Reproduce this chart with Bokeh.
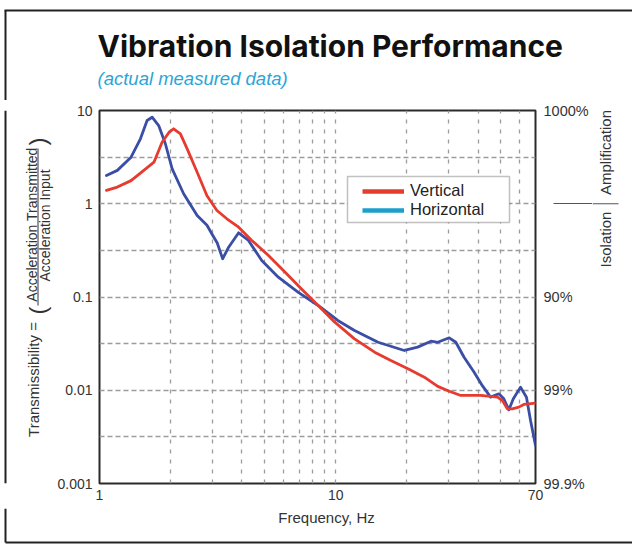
import math
from bokeh.plotting import figure
from bokeh.layouts import column, row
from bokeh.models import (FixedTicker, Label, BoxAnnotation, Legend, LegendItem,
                          CustomJSTickFormatter, Range1d, LogAxis)
from bokeh.embed import file_html
from bokeh.resources import INLINE

# ---------------- data ----------------
freq_vertical = [1.07, 1.19, 1.36, 1.54, 1.70, 1.84, 1.97, 2.06, 2.20, 2.35, 2.59,
                 2.85, 3.14, 3.46, 3.88, 4.41, 5.19, 6.09, 7.16, 8.42, 9.9, 12.0,
                 14.6, 17.1, 20.2, 23.7, 27.0, 30.2, 33.8, 41.0, 48.3, 50.7, 53.2,
                 55.8, 59.5, 62.5, 70.0]
trans_vertical = [1.39, 1.51, 1.77, 2.28, 2.79, 4.57, 5.85, 6.37, 5.62, 3.88, 2.18,
                  1.22, 0.847, 0.690, 0.561, 0.404, 0.279, 0.185, 0.122, 0.0811,
                  0.0537, 0.0356, 0.0256, 0.0208, 0.0170, 0.0138, 0.0110, 0.00977,
                  0.00879, 0.00879, 0.00843, 0.00776, 0.00632, 0.00632, 0.00659,
                  0.00705, 0.00726]

freq_horizontal = [1.07, 1.19, 1.36, 1.49, 1.59, 1.67, 1.78, 1.90, 2.03, 2.27, 2.59,
                   2.85, 3.0, 3.15, 3.32, 3.52, 3.88, 4.27, 4.86, 5.71, 6.94, 8.42,
                   10.2, 12.0, 15.1, 19.5, 22.2, 25.3, 27.0, 30.2, 32.2, 34.9, 38.5,
                   41.7, 45.2, 49.0, 51.4, 54.0, 56.4, 60.5, 64.1, 66.7, 70.0]
trans_horizontal = [2.01, 2.28, 3.16, 4.97, 7.82, 8.47, 6.90, 4.40, 2.37, 1.28, 0.748,
                    0.589, 0.468, 0.380, 0.257, 0.342, 0.488, 0.404, 0.246, 0.163,
                    0.112, 0.0811, 0.056, 0.0438, 0.0327, 0.0267, 0.0290, 0.0336,
                    0.0327, 0.0365, 0.0327, 0.0226, 0.0156, 0.0112, 0.00843, 0.00916,
                    0.00809, 0.00617, 0.00809, 0.0108, 0.00843, 0.00474, 0.00256]

series_names = ["Vertical", "Horizontal"]

x_ticks = [1, 10, 70]
x_tick_labels = ["1", "10", "70"]
y_ticks = [10, 1, 0.1, 0.01, 0.001]
y_tick_labels = ["10", "1", "0.1", "0.01", "0.001"]
right_ticks = [10, 0.1, 0.01, 0.001]
right_tick_labels = ["1000%", "90%", "99%", "99.9%"]
x_grid_values = [2, 3, 4, 5, 6, 7, 8, 9, 10, 20, 30, 40, 50, 60]
y_grid_values = [3.162, 1, 0.3162, 0.1, 0.03162, 0.01, 0.003162]
divider_value = 1   # Isolation / Amplification boundary

title_text = "Vibration Isolation Performance"
subtitle_text = "(actual measured data)"
x_title = "Frequency, Hz"
y_title_left = "Transmissibility ="
y_title_num = "Acceleration Transmitted"
y_title_den = "Acceleration Input"
right_title_up = "Amplification"
right_title_down = "Isolation"

# ---------------- styles / layout ----------------
RED = "#e63b2e"
BLUE = "#3a4ea5"
CYAN = "#1d9fcb"
TXT = "#333333"
FONT = "Liberation Sans"

TOTAL_W, TOTAL_H = 632, 545
TOP_H = 100            # title band
MID_H = 408            # row with the chart
BOT_H = TOTAL_H - TOP_H - MID_H
LEFT_W = 54
MAIN_W = 538
RIGHT_W = TOTAL_W - LEFT_W - MAIN_W
M_LEFT, M_RIGHT, M_TOP, M_BOTTOM = 43, 57, 10, 25   # frame: x 97..535, y 110..483
FRAME_TOP = TOP_H + M_TOP
FRAME_BOTTOM = TOP_H + MID_H - M_BOTTOM
ANG = math.pi / 2


def bare_fig(w, h, **kw):
    f = figure(width=w, height=h, output_backend="svg", toolbar_location=None,
               title_location=None, x_axis_location=None, y_axis_location=None, **kw)
    f.outline_line_color = None
    f.background_fill_color = "white"
    f.border_fill_color = "white"
    f.grid.visible = False
    return f


def dlabel(f, x, y, text, **kw):
    base = dict(text_font=FONT, text_color=TXT, text_align="center",
                text_baseline="middle", text_font_size="15px")
    base.update(kw)
    f.add_layout(Label(x=x, y=y, text=text, **base))


def border(f, xs0, ys0, xs1, ys1):
    f.segment(x0=xs0, y0=ys0, x1=xs1, y1=ys1, line_color="#222222", line_width=2)


# ---- top band: title and subtitle (data coords = page pixels)
top = bare_fig(TOTAL_W, TOP_H, x_range=Range1d(0, TOTAL_W), y_range=Range1d(TOP_H, 0),
               min_border_left=0, min_border_right=0, min_border_top=0, min_border_bottom=0)
dlabel(top, 97, 45, title_text, text_font="Inter", text_font_style="bold",
       text_font_size="30px", text_color="#111111", text_align="left")
dlabel(top, 97, 78, subtitle_text, text_font_style="italic", text_font_size="18.5px",
       text_color="#2ba5d6", text_align="left")
border(top, [5], [10], [5], [TOP_H])
top.add_layout(BoxAnnotation(left=4, right=TOTAL_W, top=9, bottom=11,
                             fill_color="#222222", fill_alpha=1, line_color=None))

# ---- left band: y axis title (frame shares the chart's vertical extent)
left = bare_fig(LEFT_W, MID_H, x_range=Range1d(0, LEFT_W),
                y_range=Range1d(FRAME_BOTTOM, FRAME_TOP),
                min_border_left=0, min_border_right=0,
                min_border_top=M_TOP, min_border_bottom=M_BOTTOM)
dlabel(left, 32.5, 379, y_title_left, angle=ANG)
dlabel(left, 37, 310, "(", angle=ANG, text_font_size="24px")
dlabel(left, 37, 141, ")", angle=ANG, text_font_size="24px")
dlabel(left, 31, 224, y_title_num, angle=ANG, text_font_size="14px")
dlabel(left, 44.5, 225, y_title_den, angle=ANG, text_font_size="14px")
left.segment(x0=[37.5], y0=[148], x1=[37.5], y1=[305], line_color=TXT, line_width=1)
border(left, [5], [FRAME_TOP], [5], [FRAME_BOTTOM])

# ---- main chart
p = figure(width=MAIN_W, height=MID_H, x_axis_type="log", y_axis_type="log",
           x_range=(1, 70), y_range=(0.001, 10), title_location=None,
           output_backend="svg", toolbar_location=None,
           min_border_left=M_LEFT, min_border_right=M_RIGHT,
           min_border_top=M_TOP, min_border_bottom=M_BOTTOM)
p.background_fill_color = "white"
p.border_fill_color = "white"
p.outline_line_color = "#2a2a2a"
p.outline_line_width = 2


def fmt(tick_values, labels):
    return CustomJSTickFormatter(args=dict(tv=tick_values, tl=labels), code="""
        for (let i = 0; i < tv.length; i++) {
            if (Math.abs(Math.log10(tick) - Math.log10(tv[i])) < 1e-6) return tl[i];
        }
        return "";
    """)


def style_axis(ax, size="14px"):
    ax.major_tick_line_color = None
    ax.minor_tick_line_color = None
    ax.major_tick_out = 0
    ax.major_tick_in = 0
    ax.minor_tick_out = 0
    ax.minor_tick_in = 0
    ax.axis_line_color = None
    ax.major_label_text_font = FONT
    ax.major_label_text_font_size = size
    ax.major_label_text_color = TXT


for ax, tks, lbls in ((p.xaxis[0], x_ticks, x_tick_labels), (p.yaxis[0], y_ticks, y_tick_labels)):
    ax.ticker = FixedTicker(ticks=tks)
    ax.formatter = fmt(tks, lbls)
    style_axis(ax)
p.xaxis[0].major_label_standoff = 6
p.yaxis[0].major_label_standoff = 7

# right percent scale; its single minor tick draws the Isolation/Amplification divider
ra = LogAxis(ticker=FixedTicker(ticks=right_ticks, minor_ticks=[divider_value]),
             formatter=fmt(right_ticks, right_tick_labels))
style_axis(ra, "14.5px")
ra.minor_tick_line_color = "#555555"
ra.minor_tick_line_width = 1.2
ra.minor_tick_out = 18
ra.minor_tick_in = -83
ra.major_label_standoff = -10
p.add_layout(ra, "right")

p.xgrid.ticker = FixedTicker(ticks=x_grid_values)
p.xgrid.grid_line_color = "#9c9c9c"
p.xgrid.grid_line_dash = "4 6"
p.xgrid.grid_line_width = 1.3
p.ygrid.ticker = FixedTicker(ticks=y_grid_values)
p.ygrid.grid_line_color = "#9c9c9c"
p.ygrid.grid_line_dash = "5 3"
p.ygrid.grid_line_width = 1.3

p.line(freq_horizontal, trans_horizontal, line_color=BLUE, line_width=2.8,
       line_join="round", line_cap="round")
p.line(freq_vertical, trans_vertical, line_color=RED, line_width=2.8,
       line_join="round", line_cap="round")

# legend swatches (hidden renderers carrying the legend styling of the reference)
leg_v = p.line(freq_vertical, trans_vertical, line_color=RED, line_width=4.5, visible=False)
leg_h = p.line(freq_horizontal, trans_horizontal, line_color=CYAN, line_width=4.5, visible=False)

FL_PAGE = LEFT_W + M_LEFT
p.add_layout(BoxAnnotation(left=345 - FL_PAGE, right=507 - FL_PAGE,
                           top=FRAME_BOTTOM - 176, bottom=FRAME_BOTTOM - 222,
                           left_units="screen", right_units="screen",
                           top_units="screen", bottom_units="screen",
                           fill_color="white", fill_alpha=1,
                           line_color="#333333", line_width=1.5))
legend = Legend(items=[LegendItem(label=series_names[0], renderers=[leg_v]),
                       LegendItem(label=series_names[1], renderers=[leg_h])],
                location=(360 - FL_PAGE, FRAME_BOTTOM - 223 + 4),
                padding=4, margin=0, spacing=0,
                glyph_width=42, glyph_height=18, label_height=18,
                label_standoff=6, inactive_fill_alpha=0,
                border_line_color=None, background_fill_alpha=0,
                label_text_font=FONT, label_text_font_size="16.5px",
                label_text_color="#222222")
p.add_layout(legend)

# ---- right band: Isolation | Amplification
x0r = LEFT_W + MAIN_W
right = bare_fig(RIGHT_W, MID_H, y_axis_type="log",
                 x_range=Range1d(x0r, x0r + RIGHT_W), y_range=Range1d(0.001, 10),
                 min_border_left=0, min_border_right=0,
                 min_border_top=M_TOP, min_border_bottom=M_BOTTOM)
right.segment(x0=[x0r], y0=[divider_value], x1=[618], y1=[divider_value],
              line_color="#555555", line_width=1.2)
for txt, py in ((right_title_up, 152), (right_title_down, 239)):
    right.add_layout(Label(x=605 - x0r, y=FRAME_BOTTOM - py, x_units="screen", y_units="screen",
                           text=txt, angle=ANG, text_font=FONT, text_font_size="15px",
                           text_color=TXT, text_align="center", text_baseline="middle"))

# ---- bottom band: x axis title and bottom border
y0b = TOP_H + MID_H
bottom = bare_fig(TOTAL_W, BOT_H, x_range=Range1d(0, TOTAL_W), y_range=Range1d(y0b + BOT_H, y0b),
                  min_border_left=0, min_border_right=0, min_border_top=0, min_border_bottom=0)
dlabel(bottom, 326, 517, x_title)
border(bottom, [5, 5], [y0b, 542], [5, TOTAL_W], [542, 542])

layout = column(top, row(left, p, right, spacing=0), bottom, spacing=0)
open("out.html", "w").write(file_html(layout, INLINE))
